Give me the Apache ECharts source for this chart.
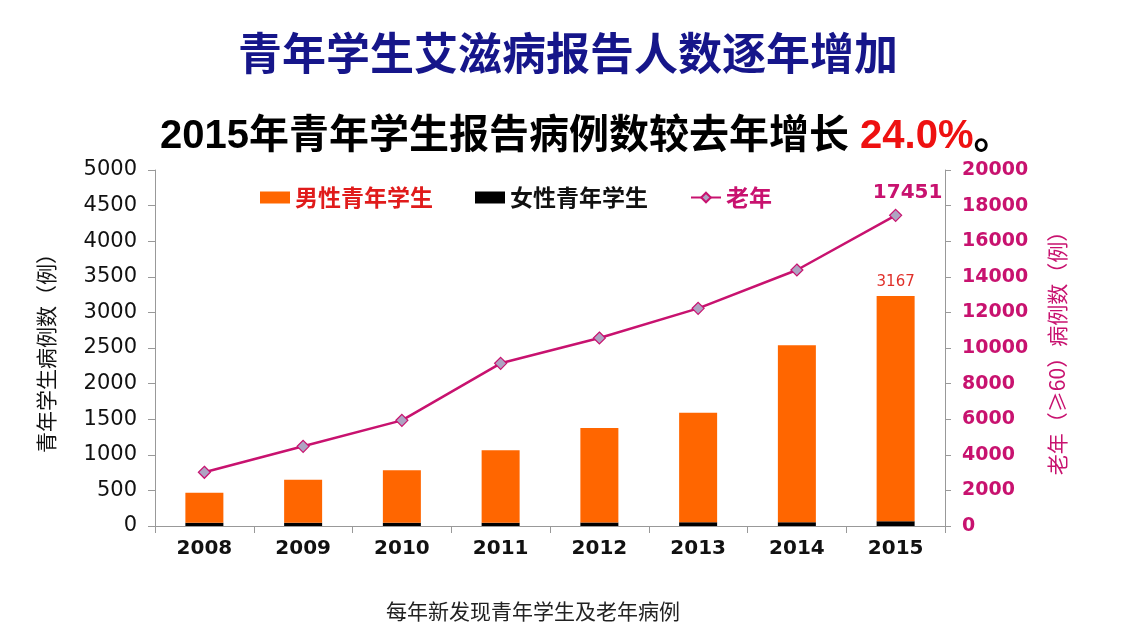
<!DOCTYPE html>
<html>
<head>
<meta charset="utf-8">
<script src="https://cdn.jsdelivr.net/npm/echarts@6/dist/echarts.min.js"></script>
<style>
html,body{margin:0;padding:0;background:#fff;}
#main{width:1136px;height:628px;}
</style>
</head>
<body>
<div id="main"></div>
<script>
const years = ['2008','2009','2010','2011','2012','2013','2014','2015'];
const maleStudents = [423, 605, 737, 1018, 1326, 1540, 2485, 3167];
const femaleStudents = [45, 45, 45, 45, 50, 52, 52, 65];
const elderly = [3017, 4477, 5936, 9140, 10562, 12228, 14382, 17451];
const leftTicks = {min: 0, max: 5000, interval: 500};
const rightTicks = {min: 0, max: 20000, interval: 2000};

const magenta = '#c8126f';
const cjk = '"Noto Sans CJK SC", sans-serif';
const num = '"DejaVu Sans", Verdana, sans-serif';

const chart = echarts.init(document.getElementById('main'));
const lastIdx = years.length - 1;

chart.setOption({
  animation: false,
  backgroundColor: '#fff',
  title: [
    {
      text: '青年学生艾滋病报告人数逐年增加',
      left: 'center', top: 26,
      textStyle: {fontFamily: cjk, fontSize: 44, fontWeight: 'bold', color: '#16168a'}
    },
    {
      text: '{a|2015年青年学生报告病例数较去年增长 }{r|24.0%}{a|。}',
      left: 155, top: 112,
      textStyle: {
        rich: {
          a: {fontFamily: '"Liberation Sans", ' + cjk, fontSize: 40, fontWeight: 'bold', color: '#000'},
          r: {fontFamily: '"Liberation Sans", Arial, sans-serif', fontSize: 40, fontWeight: 'bold', color: '#ee1111'}
        }
      }
    },
    {
      text: '每年新发现青年学生及老年病例',
      left: 528, top: 596, textAlign: 'center',
      textStyle: {fontFamily: cjk, fontSize: 21, fontWeight: 'normal', color: '#222'}
    }
  ],
  legend: {
    left: 255, top: 181,
    itemWidth: 30, itemHeight: 12, itemGap: 42,
    textStyle: {fontFamily: cjk, fontSize: 23, fontWeight: 'bold'},
    data: [
      {name: '男性青年学生', icon: 'rect', textStyle: {color: '#e01b1b'}},
      {name: '女性青年学生', icon: 'rect', textStyle: {color: '#111'}},
      {name: '老年', textStyle: {color: magenta}}
    ]
  },
  grid: {left: 155, right: 191, top: 170, bottom: 102},
  xAxis: {
    type: 'category',
    data: years,
    boundaryGap: true,
    axisLine: {lineStyle: {color: '#999'}},
    axisTick: {show: true, length: 7, lineStyle: {color: '#999'}},
    axisLabel: {fontFamily: num, fontSize: 20, fontWeight: 'bold', color: '#111', margin: 13}
  },
  yAxis: [
    {
      type: 'value',
      min: leftTicks.min, max: leftTicks.max, interval: leftTicks.interval,
      name: '青年学生病例数（例）',
      nameLocation: 'middle', nameGap: 98,
      nameTextStyle: {fontFamily: cjk, fontSize: 21, color: '#111'},
      axisLine: {show: true, lineStyle: {color: '#999'}},
      axisTick: {show: true, length: 7, lineStyle: {color: '#999'}},
      splitLine: {show: false},
      axisLabel: {fontFamily: num, fontSize: 21, color: '#111', margin: 18, formatter: v => String(v)}
    },
    {
      type: 'value',
      position: 'right',
      min: rightTicks.min, max: rightTicks.max, interval: rightTicks.interval,
      name: '老年（≥60）病例数（例）',
      nameLocation: 'middle', nameGap: 102,
      nameTextStyle: {fontFamily: cjk, fontSize: 21, color: magenta},
      axisLine: {show: true, lineStyle: {color: '#999'}},
      axisTick: {show: true, length: 6, lineStyle: {color: '#999'}},
      splitLine: {show: false},
      axisLabel: {fontFamily: num, fontSize: 19, fontWeight: 'bold', color: magenta, margin: 17, formatter: v => String(v)}
    }
  ],
  series: [
    {
      name: '女性青年学生',
      type: 'bar',
      stack: 'students',
      barWidth: 38,
      itemStyle: {color: '#000'},
      data: femaleStudents
    },
    {
      name: '男性青年学生',
      type: 'bar',
      stack: 'students',
      barWidth: 38,
      itemStyle: {color: '#ff6600'},
      data: maleStudents.map((v, i) => i === lastIdx ? {
        value: v,
        label: {show: true, position: 'top', distance: 6, fontFamily: num, fontSize: 15, color: '#e0302a'}
      } : v)
    },
    {
      name: '老年',
      type: 'line',
      yAxisIndex: 1,
      symbol: 'diamond',
      symbolSize: 12,
      lineStyle: {color: magenta, width: 2.5},
      itemStyle: {color: '#aea3c2', borderColor: magenta, borderWidth: 1.2},
      data: elderly.map((v, i) => i === lastIdx ? {
        value: v,
        label: {show: true, position: 'top', distance: 6, offset: [12, 0], fontFamily: num, fontSize: 20, fontWeight: 'bold', color: magenta}
      } : v)
    }
  ]
});
</script>
</body>
</html>
